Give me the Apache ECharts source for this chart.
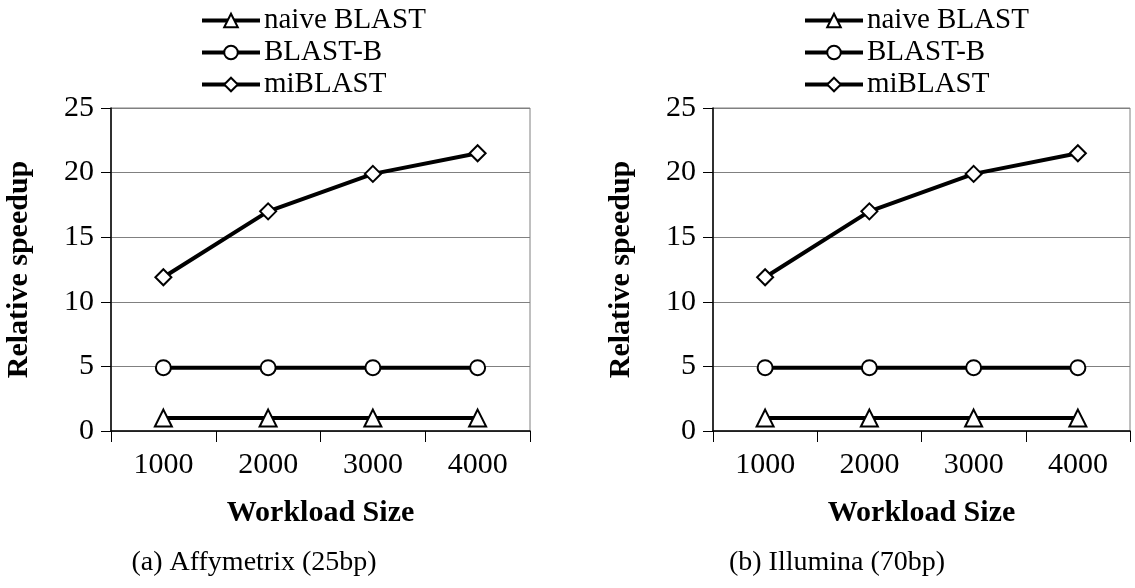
<!DOCTYPE html>
<html>
<head>
<meta charset="utf-8">
<script src="https://cdn.jsdelivr.net/npm/echarts@6/dist/echarts.min.js"></script>
<style>
  html, body { margin: 0; padding: 0; background: #fff; }
  #chart { width: 1135px; height: 588px; }
</style>
</head>
<body>
<div id="chart"></div>
<script>
var categories = ['1000', '2000', '3000', '4000'];
var seriesNames = ['naive BLAST', 'BLAST-B', 'miBLAST'];

// panel (a) Affymetrix
var naiveA = [1, 1, 1, 1];
var blastbA = [4.9, 4.9, 4.9, 4.9];
var miblastA = [11.9, 17.0, 19.9, 21.5];

// panel (b) Illumina
var naiveB = [1, 1, 1, 1];
var blastbB = [4.9, 4.9, 4.9, 4.9];
var miblastB = [11.9, 17.0, 19.9, 21.5];

var captions = ['(a) Affymetrix (25bp)', '(b) Illumina (70bp)'];

var serif = 'Liberation Serif';
var symbols = ['triangle', 'circle', 'diamond'];
var symbolSizes = [17, 15, 16];

var chart = echarts.init(document.getElementById('chart'));

function makeSeries(idx, data) {
    return data.map(function(d, i) {
        return {
            name: seriesNames[i],
            type: 'line',
            xAxisIndex: idx,
            yAxisIndex: idx,
            data: d,
            symbol: symbols[i],
            symbolSize: symbolSizes[i],
            showAllSymbol: true,
            lineStyle: { color: '#000', width: 4 },
            itemStyle: { color: '#fff', borderColor: '#000', borderWidth: 2 },
            emphasis: { disabled: true },
            z: 3 + i
        };
    });
}

function makeXAxis(idx) {
    return {
        gridIndex: idx,
        type: 'category',
        data: categories,
        boundaryGap: true,
        name: 'Workload Size',
        nameLocation: 'middle',
        nameGap: 67,
        nameTextStyle: { fontFamily: serif, fontWeight: 'bold', fontSize: 30, color: '#000' },
        axisLine: { lineStyle: { color: '#000', width: 1.5 } },
        axisTick: { show: true, interval: 0, length: 11, lineStyle: { color: '#000' } },
        axisLabel: { margin: 19, fontFamily: serif, fontSize: 30, color: '#000' },
        splitLine: { show: false }
    };
}

function makeYAxis(idx) {
    return {
        gridIndex: idx,
        type: 'value',
        min: 0,
        max: 25,
        interval: 5,
        name: 'Relative speedup',
        nameLocation: 'middle',
        nameGap: 77,
        nameTextStyle: { fontFamily: serif, fontWeight: 'bold', fontSize: 30, color: '#000' },
        axisLine: { show: true, lineStyle: { color: '#000', width: 1.5 } },
        axisTick: { show: true, length: 10, lineStyle: { color: '#000' } },
        axisLabel: { margin: 17, fontFamily: serif, fontSize: 30, color: '#000' },
        splitLine: { show: true, lineStyle: { color: '#808080', width: 1 } }
    };
}

function makeLegend(left) {
    return {
        left: left,
        top: 1,
        orient: 'vertical',
        itemGap: 3,
        itemWidth: 58,
        itemHeight: 17,
        data: seriesNames,
        lineStyle: { width: 4, color: '#000' },
        textStyle: { fontFamily: serif, fontSize: 29, color: '#000', padding: [0, 0, 0, -1] },
        selectedMode: false
    };
}

var option = {
    backgroundColor: '#fff',
    animation: false,
    title: [
        { text: captions[0], left: 249, top: 544, textAlign: 'center',
          textStyle: { fontFamily: serif, fontWeight: 'normal', fontSize: 28, color: '#000' } },
        { text: captions[1], left: 832, top: 544, textAlign: 'center',
          textStyle: { fontFamily: serif, fontWeight: 'normal', fontSize: 28, color: '#000' } }
    ],
    legend: [makeLegend(195), makeLegend(798)],
    grid: [
        { left: 111, top: 108, width: 419, height: 323, show: true, borderColor: '#808080', borderWidth: 1, backgroundColor: 'transparent' },
        { left: 713, top: 108, width: 417, height: 323, show: true, borderColor: '#808080', borderWidth: 1, backgroundColor: 'transparent' }
    ],
    xAxis: [makeXAxis(0), makeXAxis(1)],
    yAxis: [makeYAxis(0), makeYAxis(1)],
    series: makeSeries(0, [naiveA, blastbA, miblastA]).concat(makeSeries(1, [naiveB, blastbB, miblastB]))
};

chart.setOption(option);
</script>
</body>
</html>
